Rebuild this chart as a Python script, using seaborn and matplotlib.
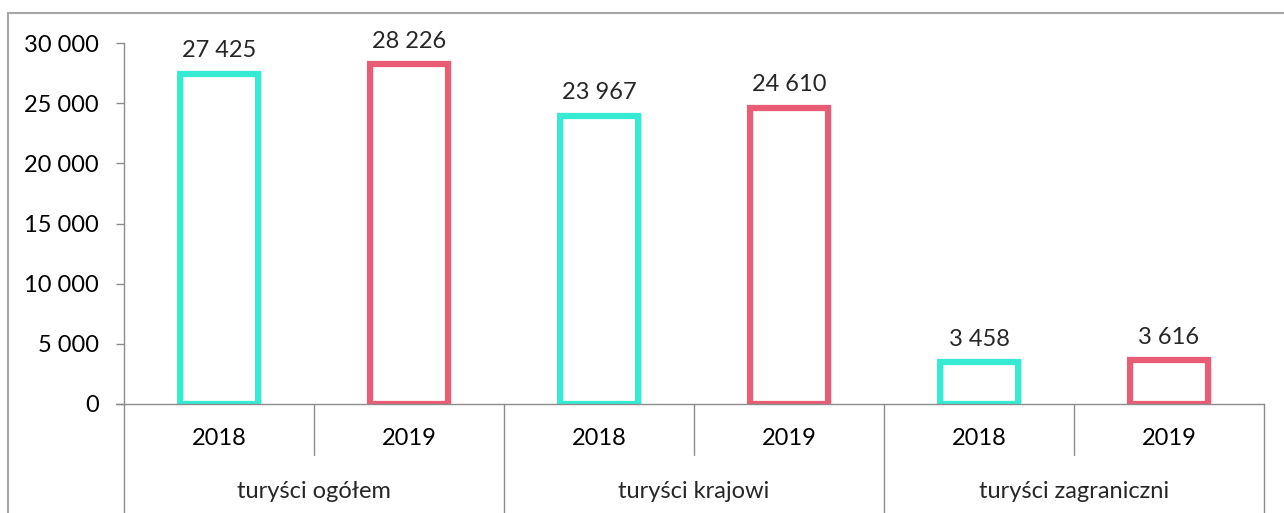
import pandas as pd
import matplotlib.pyplot as plt
import seaborn as sns
from matplotlib.lines import Line2D
from matplotlib.ticker import FuncFormatter

# === data ===
groups = ['turyści ogółem', 'turyści krajowi', 'turyści zagraniczni']
years = ['2018', '2019']
values_2018 = [27425, 23967, 3458]
values_2019 = [28226, 24610, 3616]

rows = []
for g, v18, v19 in zip(groups, values_2018, values_2019):
    rows.append({'slot': g + ' 2018', 'year': '2018', 'value': v18})
    rows.append({'slot': g + ' 2019', 'year': '2019', 'value': v19})
df = pd.DataFrame(rows)

cyan = '#35EBD3'
red = '#E85D75'
axis_grey = '#8C8C8C'

sns.set_style('white')
plt.rcParams['font.family'] = ['Lato', 'DejaVu Sans']

fig = plt.figure(figsize=(12.84, 5.13), dpi=100)
ax = fig.add_axes([124 / 1284, 1 - 404 / 513, 1140 / 1284, 361 / 513])

sns.barplot(data=df, x='slot', y='value', hue='year', palette=[cyan, red],
            fill=False, width=0.41, linewidth=4.5, dodge=False, legend=False, ax=ax)

fmt = lambda v: f"{v:,.0f}".replace(",", " ")
for c in ax.containers:
    ax.bar_label(c, fmt=fmt, padding=9, fontsize=17)

ax.set_xlim(-0.5, 5.5)
ax.set_ylim(0, 30000)
ax.set_yticks(range(0, 30001, 5000))
ax.yaxis.set_major_formatter(FuncFormatter(lambda v, p: fmt(v)))
ax.set_xticks(range(6))
ax.set_xticklabels(years * 3)
ax.set_xlabel('')
ax.set_ylabel('')

for s in ['top', 'right']:
    ax.spines[s].set_visible(False)
for s in ['left', 'bottom']:
    ax.spines[s].set_color(axis_grey)
    ax.spines[s].set_linewidth(1)
ax.tick_params(axis='y', left=True, length=6, width=1, color=axis_grey,
               labelsize=17, pad=12, labelcolor='black')
ax.tick_params(axis='x', bottom=False, labelsize=17, pad=14, labelcolor='black')

# bottom spine extends left over the tick
ax.plot([-0.5 - 8 / 190, -0.5], [0, 0], color=axis_grey, lw=1, clip_on=False)

# category separators
trans = ax.get_xaxis_transform()
for x in [-0.5, 1.5, 3.5, 5.5]:
    ax.plot([x, x], [0, -109 / 361], color=axis_grey, lw=1, clip_on=False, transform=trans)
for x in [0.5, 2.5, 4.5]:
    ax.plot([x, x], [0, -51 / 361], color=axis_grey, lw=1, clip_on=False, transform=trans)
for i, g in enumerate(groups):
    ax.text(2 * i + 0.5, -87 / 361, g, transform=trans, ha='center', va='center', fontsize=17)

# chart frame (cropped)
frame = '#A6A6A6'
fig.add_artist(Line2D([8 / 1284, 1], [1 - 13 / 513, 1 - 13 / 513], color=frame, lw=1.5))
fig.add_artist(Line2D([8 / 1284, 8 / 1284], [0, 1 - 13 / 513], color=frame, lw=1.5))

fig.savefig('out.png', dpi=100)
